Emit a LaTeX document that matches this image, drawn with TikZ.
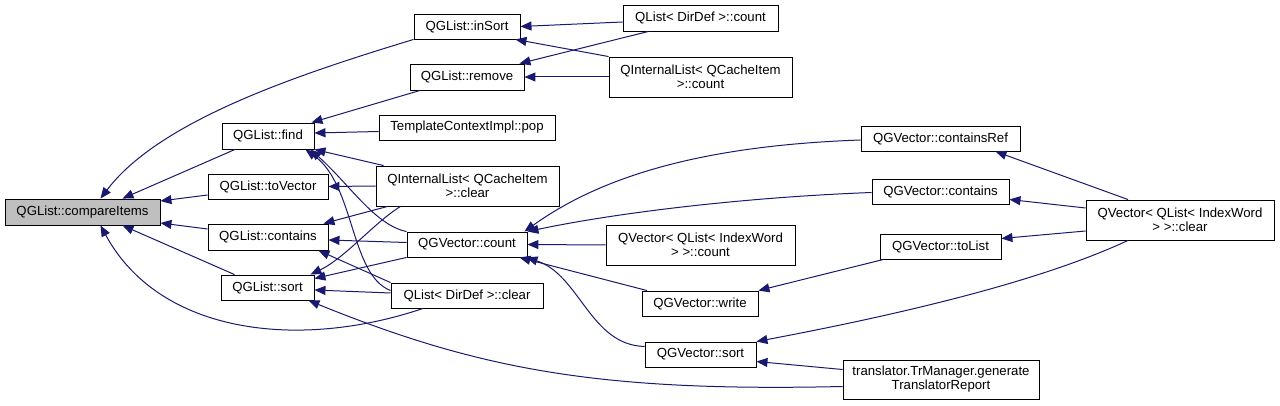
\documentclass[tikz,border=0pt]{standalone}
\usepackage{fontspec}
\setmainfont{Liberation Sans}
\usetikzlibrary{arrows.meta}
\definecolor{edgec}{HTML}{191970}
\definecolor{hilite}{HTML}{BFBFBF}
\tikzset{
  box/.style={draw=black, fill=white, line width=0.9pt, minimum height=26pt, inner sep=0pt, align=center, font=\fontsize{13.2}{14}\selectfont},
  box2/.style={box, minimum height=40pt},
  edge/.style={draw=edgec, line width=1pt, -{Triangle[length=11pt,width=9pt]}}
}
\begin{document}
\begin{tikzpicture}[x=1pt,y=-1pt]
\useasboundingbox (0,0) rectangle (1280,406);
% nodes
\node[box, fill=hilite, minimum width=155pt] (cmp) at (82.5,212) {QGList::compareItems};
\node[box, minimum width=92pt] (find) at (268,136) {QGList::find};
\node[box, minimum width=120pt, minimum height=25pt] (toVector) at (268,186.5) {QGList::toVector};
\node[box, minimum width=120pt] (contains) at (268,237) {QGList::contains};
\node[box, minimum width=93pt, minimum height=25pt] (sort) at (267.5,287.5) {QGList::sort};
\node[box, minimum width=106pt, minimum height=25pt] (inSort) at (467,26.5) {QGList::inSort};
\node[box, minimum width=114pt] (remove) at (467,77) {QGList::remove};
\node[box, minimum width=176pt, minimum height=25pt] (pop) at (467,127.5) {TemplateContextImpl::pop};
\node[box2, minimum width=183pt] (qilclear) at (467.5,186) {QInternalList< QCacheItem\\>::clear};
\node[box, minimum width=120pt, minimum height=25pt] (gvcount) at (467,244.5) {QGVector::count};
\node[box, minimum width=152pt, minimum height=25pt] (qldclear) at (467,295.5) {QList< DirDef >::clear};
\node[box, minimum width=155pt] (qldcount) at (700.5,18) {QList< DirDef >::count};
\node[box2, minimum width=183pt] (qilcount) at (700.5,77) {QInternalList< QCacheItem\\>::count};
\node[box2, minimum width=189pt] (qvcount) at (700.5,245) {QVector< QList< IndexWord\\> >::count};
\node[box, minimum width=116pt, minimum height=25pt] (write) at (700,303.5) {QGVector::write};
\node[box, minimum width=111pt, minimum height=25pt] (gvsort) at (700.5,354.5) {QGVector::sort};
\node[box, minimum width=159pt, minimum height=25pt] (containsRef) at (940.5,138.5) {QGVector::containsRef};
\node[box, minimum width=137pt, minimum height=25pt] (gvcontains) at (940.5,191.5) {QGVector::contains};
\node[box, minimum width=121pt, minimum height=25pt] (toList) at (940.5,246.5) {QGVector::toList};
\node[box2, minimum width=196pt, minimum height=39pt] (translator) at (941,379.5) {translator.TrManager.generate\\TranslatorReport};
\node[box2, minimum width=188pt] (qvclear) at (1180,220) {QVector< QList< IndexWord\\> >::clear};
% edges
\draw[edge] (inSort.south west) .. controls (300,74) and (160,120) .. ([xshift=18pt]cmp.north);
\draw[edge] ([xshift=-33pt]find.south) -- ([xshift=40pt]cmp.north);
\draw[edge] ([yshift=-8.5pt]toVector.west) -- ([yshift=11pt]cmp.east);
\draw[edge] ([yshift=8pt]contains.west) -- ([yshift=-11pt]cmp.east);
\draw[edge] ([xshift=-33pt]sort.north) -- ([xshift=40pt]cmp.south);
\draw[edge] ([xshift=-44pt]qldclear.south) .. controls (300,350) and (160,335) .. ([xshift=18pt]cmp.south);
\draw[edge] ([yshift=-4pt]qldcount.west) -- (inSort.east);
\draw[edge] (qilcount.north west) -- ([xshift=-5pt]inSort.south east);
\draw[edge] ([xshift=-52pt]qldcount.south) -- ([xshift=-5pt]remove.north east);
\draw[edge] (qilcount.west) -- (remove.east);
\draw[edge] ([xshift=-47pt]remove.south) -- ([xshift=-3pt]find.north east);
\draw[edge] ([yshift=-4pt]pop.west) -- ([yshift=3pt]find.east);
\draw[edge] ([xshift=8pt]qilclear.north west) -- (find.south east);
\draw[edge] (gvcount.north west) .. controls (375,225) and (350,185) .. ([xshift=-4pt]find.south east);
\draw[edge] ([yshift=5pt]qldclear.west) .. controls (350,275) and (355,185) .. ([xshift=-9pt]find.south east);
\draw[edge] (qilclear.west) -- (toVector.east);
\draw[edge] ([xshift=-80pt]qilclear.south) -- ([xshift=-5pt]contains.north east);
\draw[edge] ([yshift=2pt]gvcount.west) -- ([yshift=-3pt]contains.east);
\draw[edge] (qldclear.north west) -- ([xshift=-10pt]contains.south east);
\draw[edge] ([xshift=-67pt]qilclear.south) .. controls (375,222) and (345,258) .. ([xshift=-4pt]sort.north east);
\draw[edge] (gvcount.south west) -- ([yshift=9pt]sort.east);
\draw[edge] ([yshift=2.5pt]qldclear.west) -- ([yshift=-2.5pt]sort.east);
\draw[edge] ([yshift=-7pt]translator.west) .. controls (600,392) and (480,370) .. ([xshift=-6pt]sort.south east);
\draw[edge] ([yshift=-1.5pt]containsRef.west) .. controls (720,145) and (610,170) .. ([xshift=-3pt]gvcount.north east);
\draw[edge] ([yshift=-1pt]gvcontains.west) .. controls (750,197) and (620,212) .. (gvcount.north east);
\draw[edge] (qvcount.west) -- (gvcount.east);
\draw[edge] ([xshift=-53pt]write.north) -- ([xshift=-8pt]gvcount.south east);
\draw[edge] ([yshift=8pt]gvsort.west) .. controls (590,345) and (580,275) .. ([xshift=-1pt]gvcount.south east);
\draw[edge] ([xshift=-57pt]toList.south) -- (write.north east);
\draw[edge] ([xshift=-52pt]qvclear.north) -- ([xshift=-25pt]containsRef.south east);
\draw[edge] ([yshift=12pt]qvclear.west) -- ([yshift=-8pt]gvcontains.east);
\draw[edge] ([yshift=-11pt]qvclear.west) -- ([yshift=8pt]toList.east);
\draw[edge] ([xshift=-52pt]qvclear.south) .. controls (1060,272) and (950,305) .. (gvsort.north east);
\draw[edge] ([yshift=10pt]translator.west) -- ([yshift=-7pt]gvsort.east);
\end{tikzpicture}
\end{document}
